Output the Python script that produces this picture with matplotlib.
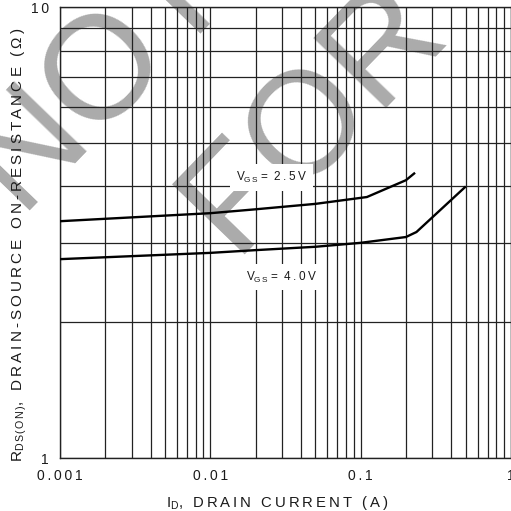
"""
R_DS(ON) vs drain current for two gate drives, log-log datasheet style.
"""

import matplotlib
matplotlib.use("Agg")
import matplotlib.pyplot as plt
from matplotlib.ticker import FixedLocator, LogLocator, NullFormatter

plt.rcParams["font.family"] = ["Liberation Sans", "DejaVu Sans"]
plt.rcParams["mathtext.fontset"] = "custom"
plt.rcParams["mathtext.rm"] = "Liberation Sans"
plt.rcParams["mathtext.it"] = "Liberation Sans:italic"

T = "\u2009"  # letter tracking
W = "\u2009 \u2009"  # word gap

# Curve data: drain current (A) and on-resistance (ohm)
ID_VGS_25 = [0.001, 0.01, 0.02, 0.05, 0.11, 0.2, 0.23]
RDS_VGS_25 = [3.35, 3.49, 3.56, 3.66, 3.79, 4.13, 4.29]

ID_VGS_40 = [0.001, 0.01, 0.02, 0.05, 0.1, 0.2, 0.235, 0.5]
RDS_VGS_40 = [2.76, 2.85, 2.89, 2.94, 3.0, 3.09, 3.17, 4.0]

X_TICKS = [0.001, 0.01, 0.1, 1]
X_TICK_LABELS = ["0.001", "0.01", "0.1", "1"]
Y_TICKS = [1, 10]
Y_TICK_LABELS = ["1", "10"]

LABEL_25 = r"V$_{\mathrm{G\,S}}$ =  " + T.join("2.5V")
LABEL_40 = r"V$_{\mathrm{G\,S}}$ =  " + T.join("4.0V")
LABEL_25_AT = (0.0254, 4.18)
LABEL_40_AT = (0.030, 2.52)


def spaced(s):
    return W.join(T.join(word) for word in s.split(" "))


XLABEL = r"I$_{\mathrm{D}}$," + W + spaced("DRAIN CURRENT (A)")
YLABEL = (r"R$_{\mathrm{D\,S\,(\,O\,N\,)}}$," + W
          + spaced("DRAIN-SOURCE ON-RESISTANCE (Ω)"))

STAMP_COLOR = "#ababab"
INK = "#1a1a1a"

fig = plt.figure(figsize=(5.11, 5.11), dpi=100)
ax = fig.add_axes([60 / 511, 53 / 511, 451 / 511, 451 / 511])

ax.set_xscale("log")
ax.set_yscale("log")
ax.set_xlim(0.001, 1)
ax.set_ylim(1, 10)

# grid on every 1..9 decade step, both axes
ax.xaxis.set_major_locator(FixedLocator(X_TICKS))
ax.yaxis.set_major_locator(FixedLocator(Y_TICKS))
ax.xaxis.set_minor_locator(LogLocator(base=10, subs=range(2, 10)))
ax.yaxis.set_minor_locator(LogLocator(base=10, subs=range(2, 10)))
ax.xaxis.set_minor_formatter(NullFormatter())
ax.yaxis.set_minor_formatter(NullFormatter())
ax.set_xticklabels([T.join(s) for s in X_TICK_LABELS])
ax.set_yticklabels([T.join(s) for s in Y_TICK_LABELS])
ax.grid(True, which="both", color="#222222", linewidth=0.9)
ax.tick_params(which="both", length=0, pad=8, labelsize=10, labelcolor=INK)

for s in ax.spines.values():
    s.set_color("#222222")
    s.set_linewidth(1.0)

ax.plot(ID_VGS_25, RDS_VGS_25, color="black", linewidth=1.7,
        solid_capstyle="butt", zorder=3)
ax.plot(ID_VGS_40, RDS_VGS_40, color="black", linewidth=1.7,
        solid_capstyle="butt", zorder=3)

box = dict(boxstyle="square,pad=0.5", facecolor="white", edgecolor="none")
ax.text(*LABEL_25_AT, LABEL_25, fontsize=8.5, color=INK, ha="center",
        va="center", bbox=box, zorder=4)
ax.text(*LABEL_40_AT, LABEL_40, fontsize=8.5, color=INK, ha="center",
        va="center", bbox=box, zorder=4)

ax.set_xlabel(XLABEL, fontsize=10.7, color=INK)
ax.set_ylabel(YLABEL, fontsize=11, color=INK)
ax.xaxis.set_label_coords(0.482, -0.08)
ax.yaxis.set_label_coords(-0.068, 0.472)

# grey rubber-stamp lettering, sits under the grid
for word, pos in [("NOT", (0.246, 0.807)), ("FOR", (0.668, 0.722))]:
    ax.text(*pos, word, transform=fig.transFigure, fontsize=106,
            color=STAMP_COLOR, rotation=46, rotation_mode="anchor",
            ha="center", va="baseline", zorder=0.5, clip_on=False)

fig.savefig("out.png", dpi=100)
